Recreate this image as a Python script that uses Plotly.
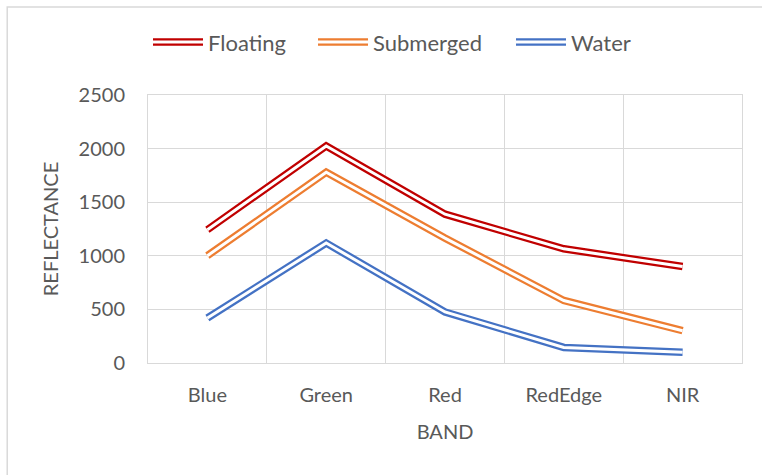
import plotly.graph_objects as go

bands = ["Blue", "Green", "Red", "RedEdge", "NIR"]
floating = [1243, 2025, 1388, 1065, 900]
submerged = [1001, 1779, 1165, 583, 301]
water = [420, 1119, 476, 145, 101]

series = [
    ("Floating", floating, "#C00000"),
    ("Submerged", submerged, "#ED7D31"),
    ("Water", water, "#4472C4"),
]
# left edge of each legend entry, in plot-paper units
legend_x = [0.0, 0.2778, 0.6111]

text_color = "#595959"
grid_color = "#D9D9D9"
font_family = "Lato, 'Open Sans', sans-serif"

fig = go.Figure()
legends = {}

# Excel-style double lines: wide coloured stroke with a thin white stroke on top.
# Each series gets its own legend; the white stroke gets a matching invisible-text
# legend drawn on top so the legend swatch is a double line too.
for i, ((name, vals, color), lx) in enumerate(zip(series, legend_x)):
    lg_main = "legend" if i == 0 else f"legend{i + 1}"
    lg_over = f"legend{i + 4}"
    fig.add_trace(go.Scatter(
        x=bands, y=vals, mode="lines", name=name,
        line=dict(color=color, width=7.5),
        legend=lg_main,
    ))
    fig.add_trace(go.Scatter(
        x=bands, y=vals, mode="lines", name=name,
        line=dict(color="white", width=3),
        legend=lg_over, hoverinfo="skip",
    ))
    for lg, fcolor in ((lg_main, text_color), (lg_over, "rgba(0,0,0,0)")):
        legends[lg] = dict(
            orientation="h",
            x=lx, xanchor="left",
            y=1.197, yanchor="middle",
            font=dict(size=22, color=fcolor),
            itemwidth=50,
            bgcolor="rgba(0,0,0,0)",
        )

fig.update_layout(
    width=762, height=475,
    margin=dict(l=148, r=20, t=95, b=112),
    paper_bgcolor="white",
    plot_bgcolor="white",
    showlegend=True,
    font=dict(family=font_family, size=20, color=text_color),
    shapes=[dict(
        type="rect", xref="paper", yref="paper",
        x0=-0.237, x1=1.06, y0=-0.45, y1=1.328,
        line=dict(color=grid_color, width=1.5),
        fillcolor="rgba(0,0,0,0)", layer="below",
    )],
    **legends,
)

fig.update_xaxes(
    type="category",
    range=[-0.5, 4.5],
    tickson="boundaries",
    showgrid=True, gridcolor=grid_color, gridwidth=1,
    showline=True, linecolor=grid_color, linewidth=1, mirror=True,
    ticks="", ticklabelstandoff=14,
    tickfont=dict(size=20, color=text_color),
    title=dict(text="BAND", font=dict(size=20, color=text_color), standoff=19),
)

fig.update_yaxes(
    range=[0, 2500],
    tickvals=[0, 500, 1000, 1500, 2000, 2500],
    showgrid=True, gridcolor=grid_color, gridwidth=1,
    zeroline=False,
    showline=True, linecolor=grid_color, linewidth=1, mirror=True,
    ticks="", ticklabelstandoff=18,
    tickfont=dict(size=20, color=text_color),
    title=dict(text="REFLECTANCE", font=dict(size=20, color=text_color), standoff=14),
)

# page has a default 8px body margin; remove it so the figure sits at the corner
fig.write_html(
    "out.html",
    config={"displayModeBar": False},
    post_script="document.body.style.margin='0';",
)
